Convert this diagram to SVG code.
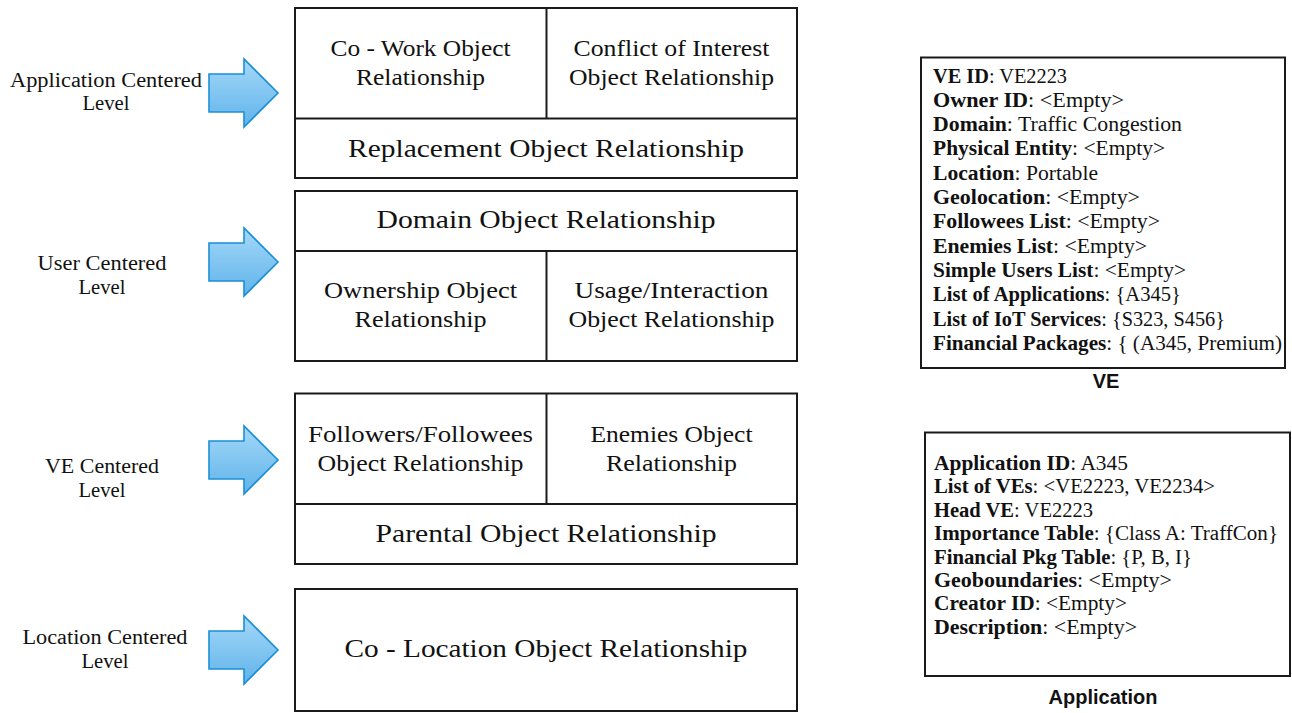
<svg xmlns="http://www.w3.org/2000/svg" width="1292" height="713" viewBox="0 0 1292 713">
  <defs>
    <linearGradient id="arrowFill" x1="0" y1="0" x2="0" y2="1">
      <stop offset="0" stop-color="#a4d8f8"/>
      <stop offset="1" stop-color="#5fb3ea"/>
    </linearGradient>
    <!-- block arrow pointing right, centred on y=0 -->
    <path id="blockArrow" d="M209,-19 L244,-19 L244,-34 L278,0 L244,34 L244,19 L209,19 Z"/>
    <style>
      .frame { fill: #ffffff; stroke: #1a1a1a; stroke-width: 2; }
      .divider { stroke: #1a1a1a; stroke-width: 2; fill: none; }
      .arrow { fill: url(#arrowFill); stroke: #1b8fd6; stroke-width: 1.6; stroke-linejoin: miter; }
      .lbl { font-family: "Liberation Serif", "Times New Roman", serif; font-size: 20px; fill: #111; text-anchor: middle; }
      .cell { font-family: "Liberation Serif", "Times New Roman", serif; font-size: 24px; fill: #111; text-anchor: middle; }
      .row { font-family: "Liberation Serif", "Times New Roman", serif; font-size: 26px; fill: #111; text-anchor: middle; }
      .attr { font-family: "Liberation Serif", "Times New Roman", serif; font-size: 20.5px; fill: #111; }
      .attr tspan.k { font-weight: bold; }
      .cap { font-family: "Liberation Sans", Arial, sans-serif; font-size: 20px; font-weight: bold; fill: #111; text-anchor: middle; }
    </style>
  </defs>

  <!-- level labels -->
  <g id="level-application">
    <text class="lbl" x="106" y="87" textLength="192" lengthAdjust="spacingAndGlyphs">Application Centered</text>
    <text class="lbl" x="106" y="110" textLength="47" lengthAdjust="spacingAndGlyphs">Level</text>
  </g>
  <g id="level-user">
    <text class="lbl" x="102" y="270" textLength="129" lengthAdjust="spacingAndGlyphs">User Centered</text>
    <text class="lbl" x="102" y="294" textLength="47" lengthAdjust="spacingAndGlyphs">Level</text>
  </g>
  <g id="level-ve">
    <text class="lbl" x="102" y="473" textLength="114" lengthAdjust="spacingAndGlyphs">VE Centered</text>
    <text class="lbl" x="102" y="497" textLength="47" lengthAdjust="spacingAndGlyphs">Level</text>
  </g>
  <g id="level-location">
    <text class="lbl" x="105" y="644" textLength="165" lengthAdjust="spacingAndGlyphs">Location Centered</text>
    <text class="lbl" x="105" y="668" textLength="47" lengthAdjust="spacingAndGlyphs">Level</text>
  </g>

  <!-- block arrows from each level to its relationship box -->
  <g id="connectors">
    <use href="#blockArrow" class="arrow" transform="translate(0,93)"/>
    <use href="#blockArrow" class="arrow" transform="translate(0,262)"/>
    <use href="#blockArrow" class="arrow" transform="translate(0,460)"/>
    <use href="#blockArrow" class="arrow" transform="translate(0,650)"/>
  </g>

  <!-- application centred relationships -->
  <g id="box-application">
    <rect class="frame" x="295" y="8" width="502" height="170"/>
    <line class="divider" x1="295" y1="118.5" x2="797" y2="118.5"/>
    <line class="divider" x1="546.5" y1="8" x2="546.5" y2="118.5"/>
    <text class="cell" x="420.5" y="56" textLength="180" lengthAdjust="spacingAndGlyphs">Co - Work Object</text>
    <text class="cell" x="420.5" y="85" textLength="129" lengthAdjust="spacingAndGlyphs">Relationship</text>
    <text class="cell" x="671.5" y="56" textLength="196" lengthAdjust="spacingAndGlyphs">Conflict of Interest</text>
    <text class="cell" x="671.5" y="85" textLength="205" lengthAdjust="spacingAndGlyphs">Object Relationship</text>
    <text class="row" x="546" y="156.5" textLength="396" lengthAdjust="spacingAndGlyphs">Replacement Object Relationship</text>
  </g>

  <!-- user centred relationships -->
  <g id="box-user">
    <rect class="frame" x="295" y="191" width="502" height="170"/>
    <line class="divider" x1="295" y1="251" x2="797" y2="251"/>
    <line class="divider" x1="546.5" y1="251" x2="546.5" y2="361"/>
    <text class="row" x="546" y="228" textLength="339" lengthAdjust="spacingAndGlyphs">Domain Object Relationship</text>
    <text class="cell" x="420.5" y="298" textLength="193" lengthAdjust="spacingAndGlyphs">Ownership Object</text>
    <text class="cell" x="420.5" y="327" textLength="132" lengthAdjust="spacingAndGlyphs">Relationship</text>
    <text class="cell" x="671.5" y="298" textLength="194" lengthAdjust="spacingAndGlyphs">Usage/Interaction</text>
    <text class="cell" x="671.5" y="327" textLength="206" lengthAdjust="spacingAndGlyphs">Object Relationship</text>
  </g>

  <!-- VE centred relationships -->
  <g id="box-ve">
    <rect class="frame" x="295" y="393.5" width="502" height="170.5"/>
    <line class="divider" x1="295" y1="504" x2="797" y2="504"/>
    <line class="divider" x1="546.5" y1="393.5" x2="546.5" y2="504"/>
    <text class="cell" x="420.5" y="442" textLength="225" lengthAdjust="spacingAndGlyphs">Followers/Followees</text>
    <text class="cell" x="420.5" y="471" textLength="206" lengthAdjust="spacingAndGlyphs">Object Relationship</text>
    <text class="cell" x="671.5" y="442" textLength="162" lengthAdjust="spacingAndGlyphs">Enemies Object</text>
    <text class="cell" x="671.5" y="471" textLength="131" lengthAdjust="spacingAndGlyphs">Relationship</text>
    <text class="row" x="546" y="542" textLength="341" lengthAdjust="spacingAndGlyphs">Parental Object Relationship</text>
  </g>

  <!-- location centred relationship -->
  <g id="box-location">
    <rect class="frame" x="295" y="589" width="502" height="122"/>
    <text class="row" x="546" y="657" textLength="403" lengthAdjust="spacingAndGlyphs">Co - Location Object Relationship</text>
  </g>

  <!-- VE record -->
  <g id="record-ve">
    <rect class="frame" x="921" y="57.5" width="364" height="310.5"/>
    <text class="attr" x="933" y="82.5" textLength="134" lengthAdjust="spacingAndGlyphs"><tspan class="k">VE ID</tspan>: VE2223</text>
    <text class="attr" x="933" y="106.8" textLength="191" lengthAdjust="spacingAndGlyphs"><tspan class="k">Owner ID</tspan>: &lt;Empty&gt;</text>
    <text class="attr" x="933" y="131.1" textLength="249" lengthAdjust="spacingAndGlyphs"><tspan class="k">Domain</tspan>: Traffic Congestion</text>
    <text class="attr" x="933" y="155.4" textLength="232" lengthAdjust="spacingAndGlyphs"><tspan class="k">Physical Entity</tspan>: &lt;Empty&gt;</text>
    <text class="attr" x="933" y="179.7" textLength="165" lengthAdjust="spacingAndGlyphs"><tspan class="k">Location</tspan>: Portable</text>
    <text class="attr" x="933" y="204" textLength="207" lengthAdjust="spacingAndGlyphs"><tspan class="k">Geolocation</tspan>: &lt;Empty&gt;</text>
    <text class="attr" x="933" y="228.3" textLength="227" lengthAdjust="spacingAndGlyphs"><tspan class="k">Followees List</tspan>: &lt;Empty&gt;</text>
    <text class="attr" x="933" y="252.6" textLength="214" lengthAdjust="spacingAndGlyphs"><tspan class="k">Enemies List</tspan>: &lt;Empty&gt;</text>
    <text class="attr" x="933" y="276.9" textLength="253" lengthAdjust="spacingAndGlyphs"><tspan class="k">Simple Users List</tspan>: &lt;Empty&gt;</text>
    <text class="attr" x="933" y="301.2" textLength="248" lengthAdjust="spacingAndGlyphs"><tspan class="k">List of Applications</tspan>: {A345}</text>
    <text class="attr" x="933" y="325.5" textLength="292" lengthAdjust="spacingAndGlyphs"><tspan class="k">List of IoT Services</tspan>: {S323, S456}</text>
    <text class="attr" x="933" y="349.8" textLength="349" lengthAdjust="spacingAndGlyphs"><tspan class="k">Financial Packages</tspan>: { (A345, Premium)</text>
    <text class="cap" x="1106" y="388">VE</text>
  </g>

  <!-- Application record -->
  <g id="record-application">
    <rect class="frame" x="925" y="432.5" width="365" height="243.5"/>
    <text class="attr" x="934" y="470" textLength="194" lengthAdjust="spacingAndGlyphs"><tspan class="k">Application ID</tspan>: A345</text>
    <text class="attr" x="934" y="493.4" textLength="281" lengthAdjust="spacingAndGlyphs"><tspan class="k">List of VEs</tspan>: &lt;VE2223, VE2234&gt;</text>
    <text class="attr" x="934" y="516.8" textLength="159" lengthAdjust="spacingAndGlyphs"><tspan class="k">Head VE</tspan>: VE2223</text>
    <text class="attr" x="934" y="540.2" textLength="344" lengthAdjust="spacingAndGlyphs"><tspan class="k">Importance Table</tspan>: {Class A: TraffCon}</text>
    <text class="attr" x="934" y="563.6" textLength="258" lengthAdjust="spacingAndGlyphs"><tspan class="k">Financial Pkg Table</tspan>: {P, B, I}</text>
    <text class="attr" x="934" y="587" textLength="238" lengthAdjust="spacingAndGlyphs"><tspan class="k">Geoboundaries</tspan>: &lt;Empty&gt;</text>
    <text class="attr" x="934" y="610.4" textLength="193" lengthAdjust="spacingAndGlyphs"><tspan class="k">Creator ID</tspan>: &lt;Empty&gt;</text>
    <text class="attr" x="934" y="633.8" textLength="203" lengthAdjust="spacingAndGlyphs"><tspan class="k">Description</tspan>: &lt;Empty&gt;</text>
    <text class="cap" x="1103" y="704">Application</text>
  </g>
</svg>
